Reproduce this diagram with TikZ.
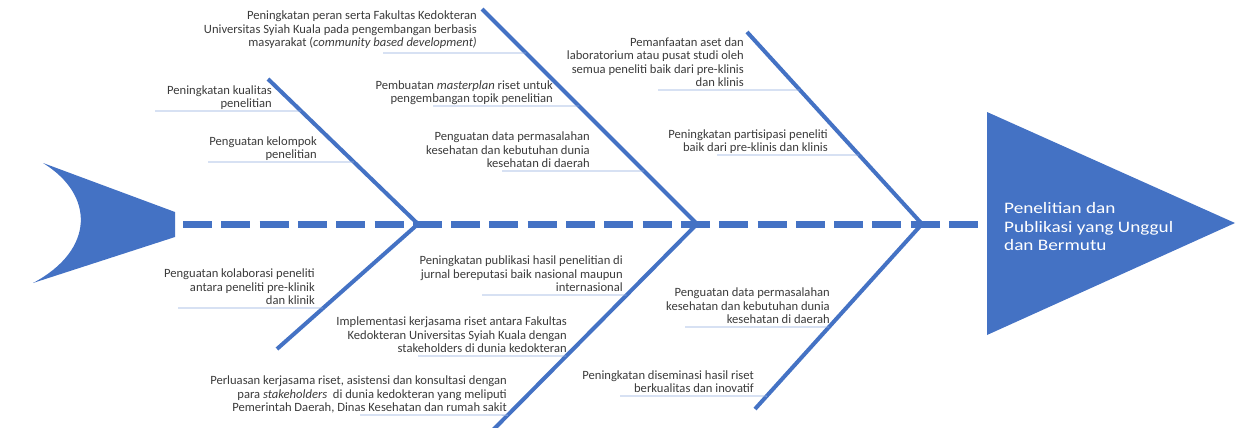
\documentclass[tikz,border=0pt]{standalone}
\usepackage{fontspec}
\setmainfont{Carlito}
\newfontfamily\headfont[FakeStretch=1.2]{Carlito}
\usetikzlibrary{positioning,calc}
\definecolor{bone}{HTML}{4472C4}
\definecolor{twig}{HTML}{8FAADC}
\definecolor{ink}{HTML}{3B3B3B}

\begin{document}
\begin{tikzpicture}[x=1pt, y=-1pt,
    cause/.style={anchor=south east, align=right, inner xsep=0pt, inner ysep=1pt, text depth=2pt, text=ink, font=\fontsize{12.6}{13.5}\selectfont},
    spine/.style={draw=bone, line width=7pt, dash pattern=on 29pt off 9.3pt},
    rib/.style={draw=bone, line width=4pt},
    twig/.style={draw=twig, line width=0.9pt}
]
    \useasboundingbox (0,0) rectangle (1236,428);

    % Tail and head
    \fill[bone] (43,163) -- (175,212) -- (175,237) -- (33,283)
        .. controls (95,250) and (95,195) .. (43,163);
    \fill[bone] (987,112) -- (1235,223) -- (987,335) -- cycle;
    \node[anchor=west, align=left, inner sep=0pt, text=white, font=\headfont\fontsize{16}{18.5}\selectfont] (effect) at (1004,227) {Penelitian dan\\Publikasi yang Unggul\\dan Bermutu};

    % Spine
    \coordinate (tail) at (183,224);
    \coordinate (head) at (980,224);
    \draw[spine] (tail) -- (head);

    % Bones
    \coordinate (t1) at (268,79);  \coordinate (j1) at (418,224); \coordinate (b1) at (277,349);
    \coordinate (t2) at (482,9);   \coordinate (j2) at (697,224); \coordinate (b2) at (493,430);
    \coordinate (t3) at (747,32);  \coordinate (j3) at (922,224); \coordinate (b3) at (755,409);
    \draw[rib] (t1) -- (j1) -- (b1);
    \draw[rib] (t2) -- (j2) -- (b2);
    \draw[rib] (t3) -- (j3) -- (b3);

    % Causes on bone 1
    \node[cause] (c11) at (272,111) {Peningkatan kualitas\\penelitian};
    \node[cause] (c12) at (317,162) {Penguatan kelompok\\penelitian};
    \node[cause] (c13) at (315,308) {Penguatan kolaborasi peneliti\\antara peneliti pre-klinik\\dan klinik};

    % Causes on bone 2
    \node[cause, inner ysep=4pt] (c21) at (477,53) {Peningkatan peran serta Fakultas Kedokteran\\Universitas Syiah Kuala pada pengembangan berbasis\\masyarakat (\textit{community based development)}};
    \node[cause] (c22) at (553,106) {Pembuatan \textit{masterplan} riset untuk\\pengembangan topik penelitian};
    \node[cause] (c23) at (590,171) {Penguatan data permasalahan\\kesehatan dan kebutuhan dunia\\kesehatan di daerah};
    \node[cause] (c24) at (623,295) {Peningkatan publikasi hasil penelitian di\\jurnal bereputasi baik nasional maupun\\internasional};
    \node[cause] (c25) at (567,356) {Implementasi kerjasama riset antara Fakultas\\Kedokteran Universitas Syiah Kuala dengan\\stakeholders di dunia kedokteran};
    \node[cause] (c26) at (507,415) {Perluasan kerjasama riset, asistensi dan konsultasi dengan\\para \textit{stakeholders}\ \ di dunia kedokteran yang meliputi\\Pemerintah Daerah, Dinas Kesehatan dan rumah sakit};

    % Causes on bone 3
    \node[cause] (c31) at (744,90) {Pemanfaatan aset dan\\laboratorium atau pusat studi oleh\\semua peneliti baik dari pre-klinis\\dan klinis};
    \node[cause] (c32) at (828,155) {Peningkatan partisipasi peneliti\\baik dari pre-klinis dan klinis};
    \node[cause] (c33) at (830,327) {Penguatan data permasalahan\\kesehatan dan kebutuhan dunia\\kesehatan di daerah};
    \node[cause] (c34) at (754,396) {Peningkatan diseminasi hasil riset\\berkualitas dan inovatif};

    % Twigs
    \foreach \c/\a/\b/\w in {c11/t1/j1/155, c12/t1/j1/208, c13/j1/b1/178,
        c21/t2/j2/383, c22/t2/j2/433, c23/t2/j2/502, c24/j2/b2/482, c25/j2/b2/418, c26/j2/b2/360,
        c31/t3/j3/658, c32/t3/j3/717, c33/j3/b3/685, c34/j3/b3/620}
        \draw[twig] (\c.south -| \w,0) -- (intersection of \c.south west--\c.south east and \a--\b);
\end{tikzpicture}
\end{document}
